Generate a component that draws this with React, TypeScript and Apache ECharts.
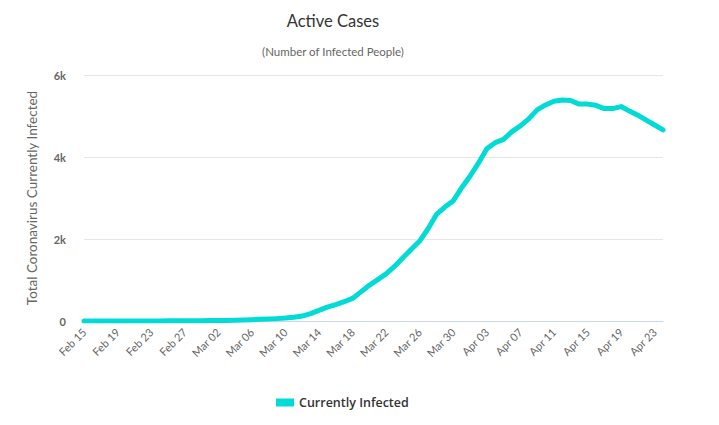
import React, { useEffect, useRef } from "react";
import * as echarts from "echarts";

const dates: string[] = [
  "Feb 15", "Feb 16", "Feb 17", "Feb 18", "Feb 19", "Feb 20", "Feb 21", "Feb 22", "Feb 23", "Feb 24",
  "Feb 25", "Feb 26", "Feb 27", "Feb 28", "Feb 29",
  "Mar 01", "Mar 02", "Mar 03", "Mar 04", "Mar 05", "Mar 06", "Mar 07", "Mar 08", "Mar 09", "Mar 10",
  "Mar 11", "Mar 12", "Mar 13", "Mar 14", "Mar 15", "Mar 16", "Mar 17", "Mar 18", "Mar 19", "Mar 20",
  "Mar 21", "Mar 22", "Mar 23", "Mar 24", "Mar 25", "Mar 26", "Mar 27", "Mar 28", "Mar 29", "Mar 30",
  "Mar 31",
  "Apr 01", "Apr 02", "Apr 03", "Apr 04", "Apr 05", "Apr 06", "Apr 07", "Apr 08", "Apr 09", "Apr 10",
  "Apr 11", "Apr 12", "Apr 13", "Apr 14", "Apr 15", "Apr 16", "Apr 17", "Apr 18", "Apr 19", "Apr 20",
  "Apr 21", "Apr 22", "Apr 23", "Apr 24",
];

const currentlyInfected: number[] = [
  3, 3, 3, 3, 3, 3, 3, 3, 3, 3, 4, 4, 5, 6, 8,
  10, 12, 15, 20, 25, 32,
  40, 48, 58, 72, 92, 120,
  180, 260, 340, 400, 470, 550,
  710, 870, 1010, 1150, 1330, 1540,
  1750, 1950, 2250, 2600, 2780, 2930,
  3250, 3530, 3850, 4200, 4350, 4430,
  4620, 4760, 4930, 5150, 5270, 5360,
  5390, 5380, 5290, 5290, 5260, 5180,
  5180, 5230, 5120, 5020, 4900, 4780, 4660,
];

const yTicks: number[] = [0, 2000, 4000, 6000];
const yTickLabels: string[] = ["0", "2k", "4k", "6k"];

const FONT = "Lato, 'Open Sans', sans-serif";
const WIDE = "'Open Sans', Lato, sans-serif";

export default function App() {
  const ref = useRef<HTMLDivElement>(null);

  useEffect(() => {
    if (!ref.current) return;
    const chart = echarts.init(ref.current, undefined, { renderer: "svg" });
    chart.setOption({
      animation: false,
      backgroundColor: "#ffffff",
      title: [
        {
          text: "Active Cases",
          left: 328,
          top: 7,
          textAlign: "center",
          textStyle: { fontSize: 16.5, fontWeight: "normal", color: "#333333", fontFamily: FONT },
        },
        {
          text: "(Number of Infected People)",
          left: 328,
          top: 40,
          textAlign: "center",
          textStyle: { fontSize: 11.5, fontWeight: "normal", color: "#666666", fontFamily: FONT },
        },
      ],
      legend: {
        left: 271,
        top: 391,
        icon: "rect",
        itemWidth: 18,
        itemHeight: 8,
        itemGap: 10,
        textStyle: { fontSize: 12.5, fontWeight: 600, color: "#333333", fontFamily: WIDE },
        data: ["Currently Infected"],
      },
      grid: { left: 84, right: 56, top: 75, bottom: 104, containLabel: false },
      xAxis: {
        type: "category",
        data: dates,
        boundaryGap: false,
        axisLine: { show: true, lineStyle: { color: "#ccd6eb", width: 1 } },
        axisTick: { show: false },
        axisLabel: {
          interval: 3,
          rotate: 45,
          color: "#666666",
          fontSize: 11,
          fontFamily: FONT,
          margin: 9,
        },
        splitLine: { show: false },
      },
      yAxis: {
        type: "value",
        min: yTicks[0],
        max: yTicks[yTicks.length - 1],
        interval: yTicks[1] - yTicks[0],
        name: "Total Coronavirus Currently Infected",
        nameLocation: "middle",
        nameGap: 45,
        nameRotate: 90,
        nameTextStyle: { fontSize: 13.5, color: "#666666", fontFamily: FONT },
        axisLine: { show: false },
        axisTick: { show: false },
        axisLabel: {
          color: "#666666",
          fontSize: 11,
          fontWeight: "bold",
          fontFamily: FONT,
          margin: 18,
          formatter: (v: number) => {
            const i = yTicks.indexOf(v);
            return i >= 0 ? yTickLabels[i] : String(v);
          },
        },
        splitLine: { show: true, lineStyle: { color: "#e6e6e6", width: 1 } },
      },
      series: [
        {
          name: "Currently Infected",
          type: "line",
          data: currentlyInfected,
          showSymbol: false,
          symbol: "none",
          smooth: false,
          itemStyle: { color: "#00dbd6" },
          lineStyle: { color: "#00dbd6", width: 5, cap: "round", join: "round" },
        },
      ],
    });
    return () => chart.dispose();
  }, []);

  return (
    <div
      ref={ref}
      style={{ position: "fixed", left: 0, top: 0, width: 719, height: 425, background: "#fff" }}
    />
  );
}
